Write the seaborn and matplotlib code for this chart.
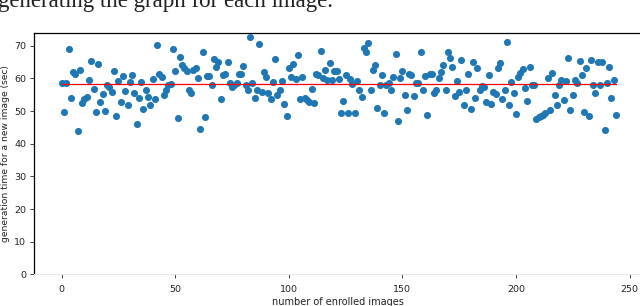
import numpy as np
import pandas as pd
import matplotlib
matplotlib.use("Agg")
import matplotlib.pyplot as plt
import seaborn as sns

# generation time (sec) for each newly enrolled image, in order
times_a = [58.5, 49.7, 58.5, 68.9, 54.1, 62.1, 61.5, 44.0, 62.6, 52.6, 53.6, 54.4,
           59.5, 65.4, 56.7, 49.6, 64.5, 52.7, 55.1, 50.1, 58.0, 57.3, 55.9, 62.4,
           48.5, 59.3, 52.8, 60.7, 56.2, 51.8, 58.8, 61.0, 55.6, 45.9, 54.0]
times_b = [59.0, 50.6, 56.4, 54.4, 51.8, 59.9, 53.7, 70.1, 61.5, 60.5, 54.8, 56.4,
           58.0, 58.3, 68.9, 62.4, 48.0, 66.6, 64.2, 63.1, 62.4, 56.4, 55.4, 62.6,
           63.1, 60.0, 44.6, 68.2, 48.3, 60.7, 60.7, 58.0, 65.9, 63.6, 65.1, 53.6, 61.0]
times_c = [61.3, 65.0, 58.5, 57.5, 58.0, 58.5, 61.3, 61.5, 63.8, 58.0, 56.4, 72.8,
           58.7, 54.1, 56.6, 70.4, 55.9, 62.1, 60.3, 55.4, 53.6, 59.0, 65.9, 54.8,
           56.4, 59.3, 52.2, 48.5, 63.1, 60.5, 64.4, 59.7, 67.1, 53.6, 60.5, 53.9]
times_d = [53.4, 52.9, 56.8, 52.4, 61.5, 61.0, 68.4, 60.0, 62.6, 59.5, 64.6, 59.5,
           62.4, 62.4, 59.7, 49.3, 53.0, 61.0, 49.3, 59.7, 58.2, 49.3, 59.3, 56.4,
           54.4, 69.2, 68.0, 70.7, 56.4, 62.6, 64.2, 51.0, 58.0, 61.0, 49.5, 58.0]
times_e = [58.5, 56.6, 60.3, 67.4, 47.0, 60.0, 62.3, 54.9, 50.3, 61.3, 61.0, 54.6,
           58.7, 58.5, 68.0, 56.4, 60.7, 48.8, 61.5, 61.5, 55.4, 56.6, 60.0, 62.1,
           64.1, 56.4, 68.2, 66.1, 63.6, 54.6, 59.3, 55.7, 65.6, 51.8, 56.4, 61.5,
           50.5, 65.1]
times_f = [53.9, 63.1, 56.6, 57.7, 57.5, 52.9, 61.0, 52.2, 55.9, 55.2, 63.1, 64.8,
           53.6, 56.6, 71.2, 51.8, 59.0, 55.6, 49.0, 60.5, 61.7, 62.8, 57.0, 53.1,
           63.6, 58.0, 58.0, 47.5, 48.1, 48.5, 48.8, 49.3, 60.0, 50.3, 61.7, 54.9]
times_g = [51.8, 58.0, 59.5, 53.4, 59.3, 66.1, 50.3, 54.9, 59.5, 58.5, 65.4, 61.0,
           49.8, 63.3, 48.5, 65.6, 58.0, 55.4, 65.1, 58.0, 65.1, 44.2, 58.7, 63.6,
           53.9, 59.5, 48.9]

times = times_a + times_b + times_c + times_d + times_e + times_f + times_g
x_ticks = [0, 50, 100, 150, 200, 250]
y_ticks = [0, 10, 20, 30, 40, 50, 60, 70]
x_label = "number of enrolled images"
y_label = "generation time for a new image (sec)"
caption = "generating the graph for each image."

df = pd.DataFrame({"n": np.arange(len(times)), "t": times})
mean_t = float(np.mean(times))
df_mean = pd.DataFrame({"n": [0, len(times) - 1], "t": [mean_t, mean_t]})

fig = plt.figure(figsize=(6.4, 3.06), dpi=100)
ax = fig.add_axes([34 / 640, 31.6 / 306, 608 / 640, 241.4 / 306])

sns.scatterplot(data=df, x="n", y="t", ax=ax, color="#1f77b4", s=26,
                linewidth=0, zorder=3)
sns.lineplot(data=df_mean, x="n", y="t", ax=ax, color="red", linewidth=0.9,
             zorder=4)

ax.set_xlim(-12.2, 255.5)
ax.set_ylim(0, 73.9)
ax.set_xticks(x_ticks)
ax.set_yticks(y_ticks)
ax.tick_params(labelsize=6.8, length=3, width=0.6, colors="#222222")
ax.tick_params(axis="x", pad=4.5)
ax.tick_params(axis="y", pad=2.5)
ax.set_xlabel(x_label, fontsize=7, labelpad=2.5, color="#222222")
ax.set_ylabel(y_label, fontsize=6.6, labelpad=3, color="#222222")
for side in ["left", "top", "right"]:
    ax.spines[side].set_color("black")
    ax.spines[side].set_linewidth(0.9)
ax.spines["bottom"].set_color("#e6e6e6")
ax.spines["bottom"].set_linewidth(0.8)

fig.text(-0.003, 1 - 6.5 / 306, caption, family="Liberation Serif", fontsize=16.5,
         va="baseline", ha="left", color="#222222")

fig.savefig("out.png", dpi=100)
